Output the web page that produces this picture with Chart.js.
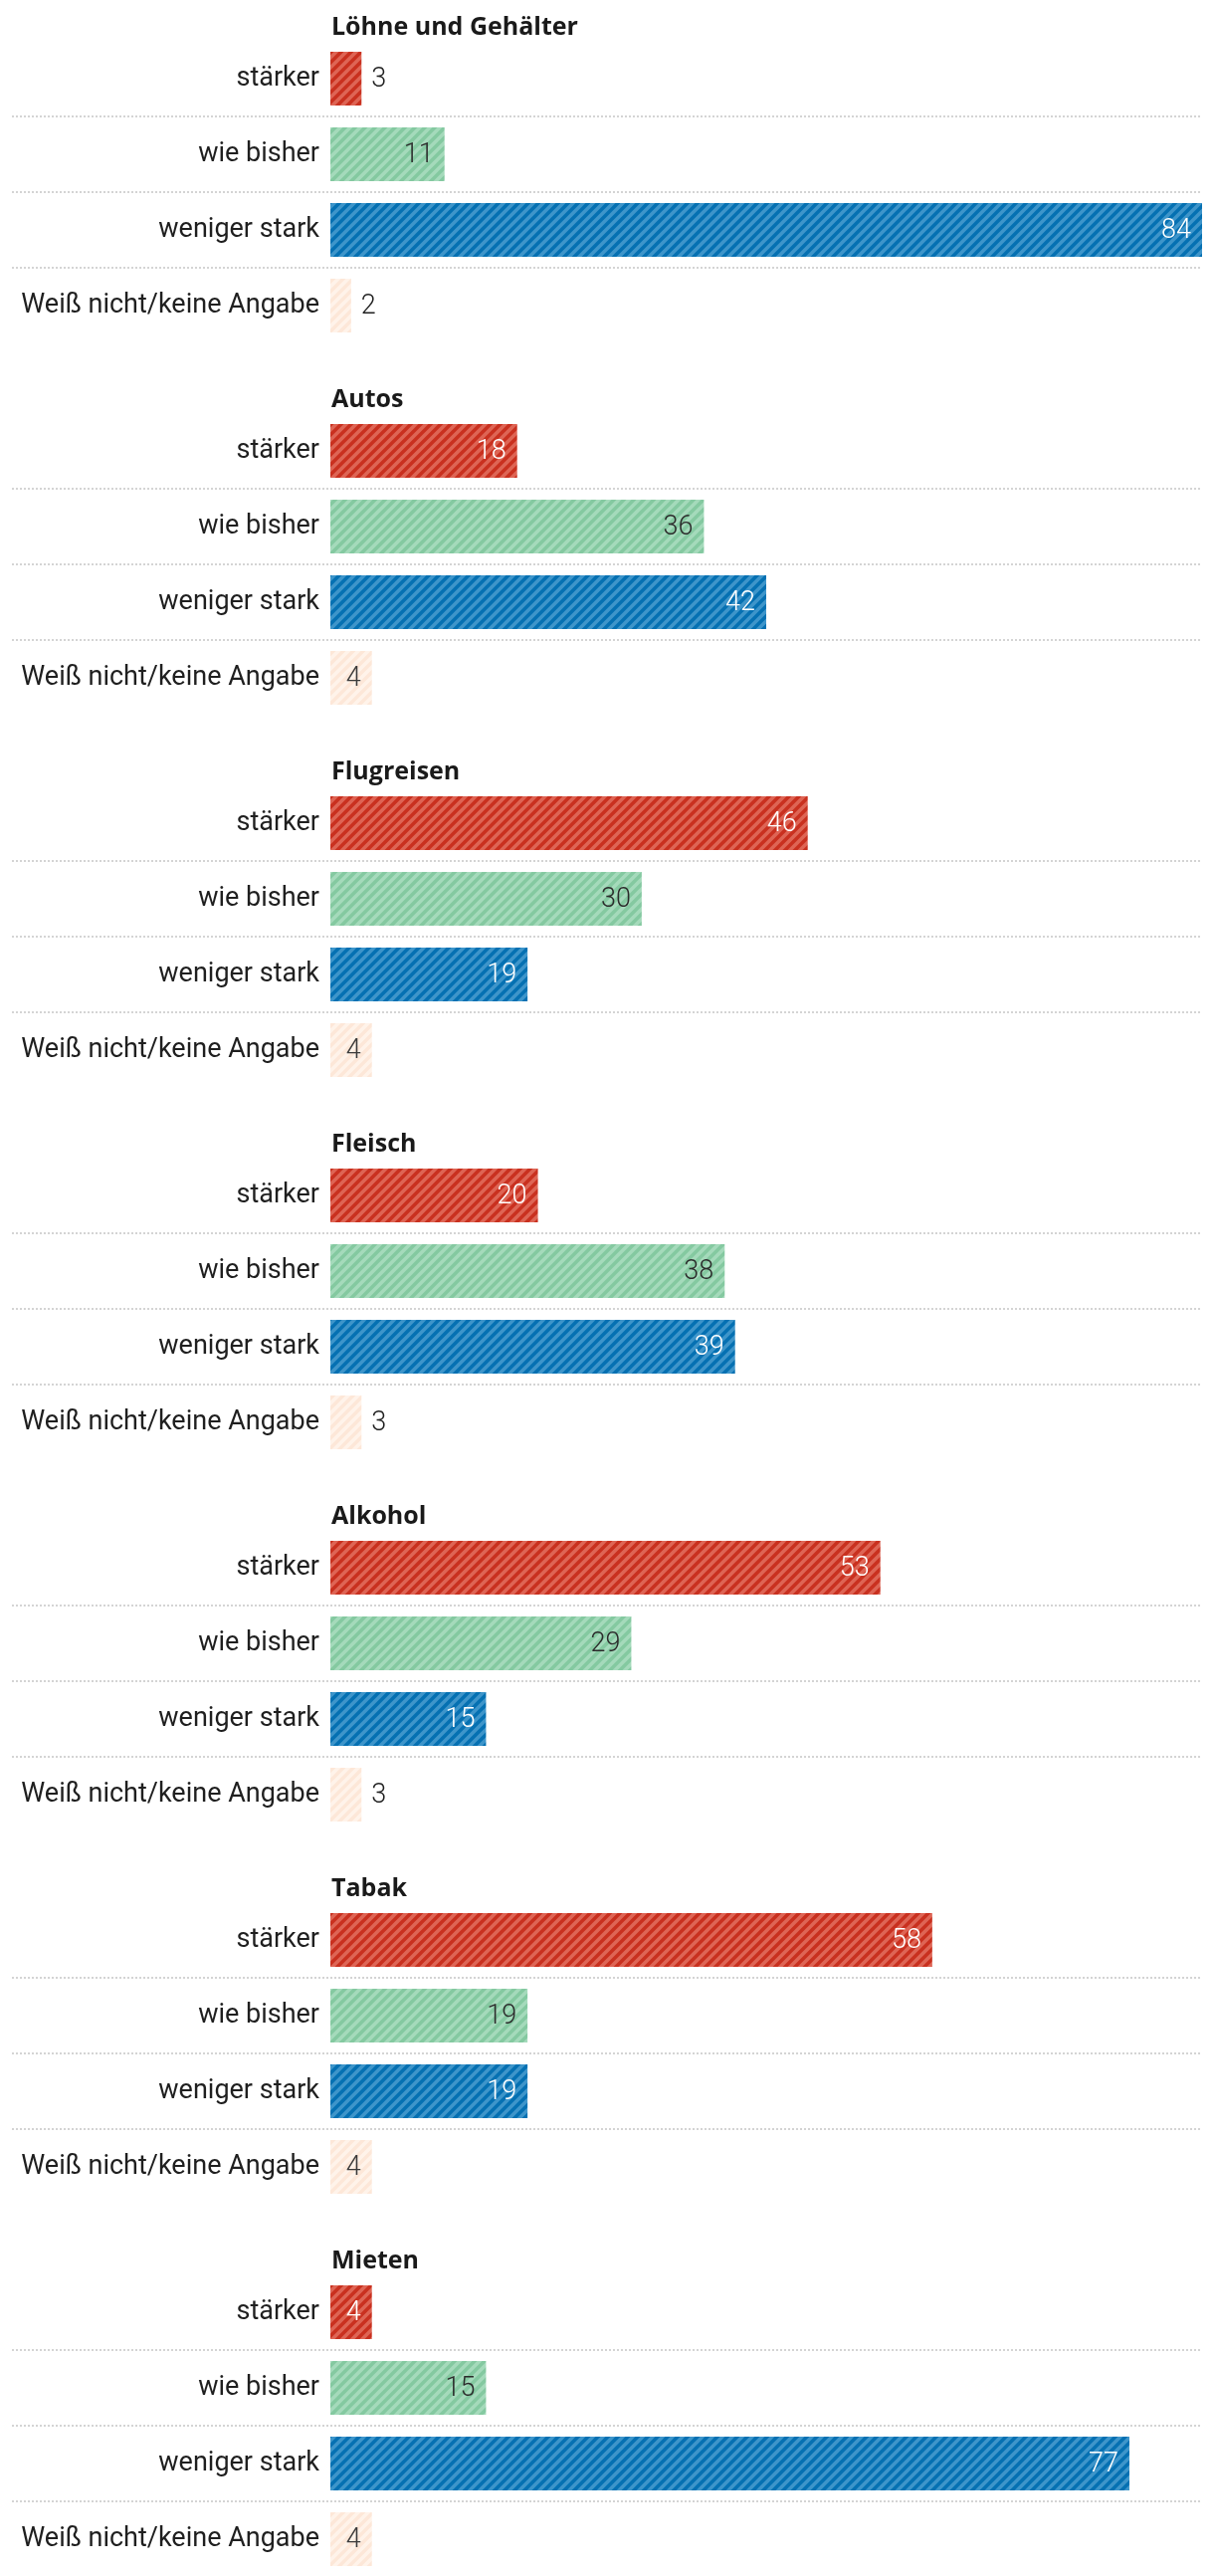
<!DOCTYPE html>
<html lang="de">
<head>
<meta charset="utf-8">
<script src="https://cdn.jsdelivr.net/npm/chart.js@4.4.1/dist/chart.umd.min.js"></script>
<style>
  body { margin: 0; background: #fff; overflow: hidden; }
  .group { position: relative; width: 1220px; height: 374px; }
</style>
</head>
<body>
<div id="charts"></div>
<script>
// Data
const groups = ['Löhne und Gehälter', 'Autos', 'Flugreisen', 'Fleisch', 'Alkohol', 'Tabak', 'Mieten'];
const answers = ['stärker', 'wie bisher', 'weniger stark', 'Weiß nicht/keine Angabe'];
const staerker = [3, 18, 46, 20, 53, 58, 4];
const wieBisher = [11, 36, 30, 38, 29, 19, 15];
const wenigerStark = [84, 42, 19, 39, 15, 19, 77];
const weissNicht = [2, 4, 4, 3, 3, 4, 4];
const xMax = 84;

const FONT = 'Roboto';

// Striped fills
function stripes(dark, light) {
    const s = 10;
    const c = document.createElement('canvas');
    c.width = s;
    c.height = s;
    const g = c.getContext('2d');
    g.fillStyle = dark;
    g.fillRect(0, 0, s, s);
    g.strokeStyle = light;
    g.lineWidth = 3.6;
    g.beginPath();
    g.moveTo(-2, s + 2); g.lineTo(s + 2, -2);
    g.moveTo(-3, 3); g.lineTo(3, -3);
    g.moveTo(s - 3, s + 3); g.lineTo(s + 3, s - 3);
    g.stroke();
    return g.createPattern(c, 'repeat');
}

const fills = [
    stripes('#c9301f', '#de6555'),
    stripes('#84c9a0', '#a5dabb'),
    stripes('#0570b2', '#3e95ca'),
    stripes('#fde7d8', '#fff3ea')
];
const insideColors = ['#ffffff', '#2b2b2b', '#ffffff', '#3a3a3a'];

// Title over each block, dotted separators, value labels
const blockPlugin = {
    id: 'block',
    beforeDatasetsDraw(chart, args, opts) {
        const { ctx, chartArea, scales } = chart;
        const y = scales.y;
        ctx.save();
        ctx.strokeStyle = '#d4d4d4';
        ctx.lineWidth = 2;
        ctx.setLineDash([2, 2]);
        for (let i = 1; i < answers.length; i++) {
            const yy = Math.round((y.getPixelForTick(i - 1) + y.getPixelForTick(i)) / 2);
            ctx.beginPath();
            ctx.moveTo(12, yy);
            ctx.lineTo(chartArea.right, yy);
            ctx.stroke();
        }
        ctx.restore();
    },
    afterDraw(chart, args, opts) {
        const { ctx, chartArea } = chart;
        ctx.save();
        ctx.fillStyle = '#1a1a1a';
        ctx.font = 'bold 25px "Open Sans"';
        ctx.textAlign = 'left';
        ctx.textBaseline = 'alphabetic';
        ctx.fillText(opts.title, chartArea.left + 1, chartArea.top - 6);

        const meta = chart.getDatasetMeta(0);
        const data = chart.data.datasets[0].data;
        ctx.font = '300 27px ' + FONT;
        ctx.textBaseline = 'middle';
        meta.data.forEach((bar, i) => {
            const w = bar.x - bar.base;
            if (w >= 38) {
                ctx.textAlign = 'right';
                ctx.fillStyle = insideColors[i];
                ctx.fillText(data[i], bar.x - 11, bar.y + 1);
            } else {
                ctx.textAlign = 'left';
                ctx.fillStyle = '#1f1f1f';
                ctx.fillText(data[i], bar.x + 10, bar.y + 1);
            }
        });
        ctx.restore();
    }
};

const holder = document.querySelector('#charts');

groups.forEach((name, g) => {
    const div = document.createElement('div');
    div.className = 'group';
    const canvas = document.createElement('canvas');
    div.appendChild(canvas);
    holder.appendChild(div);

    new Chart(canvas.getContext('2d'), {
        type: 'bar',
        data: {
            labels: answers,
            datasets: [{
                data: [staerker[g], wieBisher[g], wenigerStark[g], weissNicht[g]],
                backgroundColor: fills,
                borderWidth: 0,
                barPercentage: 1,
                categoryPercentage: 54 / 76
            }]
        },
        options: {
            indexAxis: 'y',
            responsive: true,
            maintainAspectRatio: false,
            animation: false,
            layout: { padding: { top: 41, bottom: 29, left: 0, right: 12 } },
            scales: {
                x: { display: false, min: 0, max: xMax },
                y: {
                    grid: { display: false, drawTicks: false },
                    border: { display: false },
                    ticks: {
                        padding: 11,
                        color: '#1f1f1f',
                        font: { family: FONT, size: 27 }
                    },
                    afterFit(scale) { scale.width = 332; }
                }
            },
            plugins: {
                legend: { display: false },
                tooltip: { enabled: false },
                block: { title: name }
            }
        },
        plugins: [blockPlugin]
    });
});
</script>
</body>
</html>
